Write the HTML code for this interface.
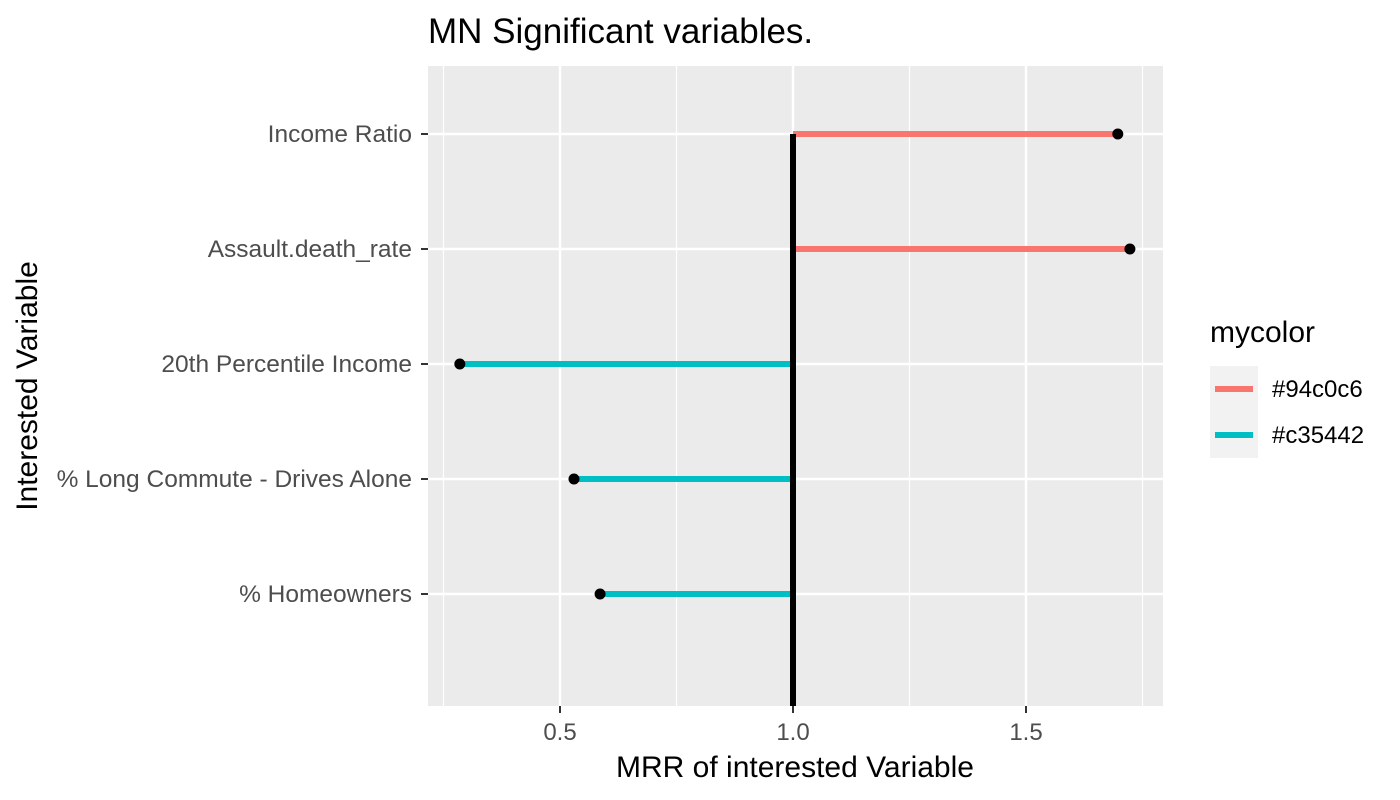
<!DOCTYPE html>
<html><head><meta charset="utf-8"><style>body{margin:0;background:#fff}svg{display:block;font-family:"Liberation Sans",sans-serif}</style></head>
<body>
<svg id="chart" width="1400" height="800">
<text x="428" y="43" font-size="35" fill="#000">MN Significant variables.</text>
<rect x="428" y="66" width="735" height="640" fill="#ebebeb"/>
<g id="grid"></g>
<g id="marks"></g>
<g id="axes"></g>
<text x="795" y="777" font-size="30" text-anchor="middle" fill="#000">MRR of interested Variable</text>
<text transform="translate(37,386) rotate(-90)" font-size="30" text-anchor="middle" fill="#000">Interested Variable</text>
<g>
<text x="1210" y="342" font-size="30" fill="#000">mycolor</text>
<rect x="1210" y="366" width="48" height="46" fill="#f2f2f2"/>
<line x1="1215" y1="389" x2="1253" y2="389" stroke="#F8766D" stroke-width="6"/>
<text x="1272" y="397" font-size="24" fill="#000">#94c0c6</text>
<rect x="1210" y="412" width="48" height="46" fill="#f2f2f2"/>
<line x1="1215" y1="435" x2="1253" y2="435" stroke="#00BFC4" stroke-width="6"/>
<text x="1272" y="443" font-size="24" fill="#000">#c35442</text>
</g>
</svg>
<script>
const categories = ["Income Ratio","Assault.death_rate","20th Percentile Income","% Long Commute - Drives Alone","% Homeowners"];
const values = [1.697, 1.723, 0.285, 0.530, 0.586];
const xTicks = [0.5, 1.0, 1.5];
const xTickLabels = ["0.5","1.0","1.5"];
const xMinor = [0.25, 0.75, 1.25, 1.75];
const NS="http://www.w3.org/2000/svg";
const x = v => 793 + (v-1)*466;
const y = i => 134 + i*115;
function mk(tag, attrs, parent){const e=document.createElementNS(NS,tag);for(const k in attrs)e.setAttribute(k,attrs[k]);document.getElementById(parent).appendChild(e);return e;}
xMinor.forEach(v=>{const l=mk('line',{x1:x(v),x2:x(v),y1:66,y2:706,stroke:'#fff','stroke-width':1.2},'grid');

});
xTicks.forEach((v,i)=>{const l=mk('line',{x1:x(v),x2:x(v),y1:66,y2:706,stroke:'#fff','stroke-width':2.4},'grid');


const t=mk('line',{x1:x(v),x2:x(v),y1:706,y2:713,stroke:'#333','stroke-width':2},'axes');


const tx=mk('text',{x:x(v),y:740,'font-size':24,fill:'#4d4d4d','text-anchor':'middle'},'axes');tx.textContent=xTickLabels[i];

});
categories.forEach((c,i)=>{const l=mk('line',{x1:428,x2:1163,y1:y(i),y2:y(i),stroke:'#fff','stroke-width':2.4},'grid');


const t=mk('line',{x1:421,x2:428,y1:y(i),y2:y(i),stroke:'#333','stroke-width':2},'axes');


const tx=mk('text',{x:412,y:y(i)+8,'font-size':24.5,fill:'#4d4d4d','text-anchor':'end'},'axes');tx.textContent=c;

});
values.forEach((v,i)=>{const col=v>=1?'#F8766D':'#00BFC4';
const s=mk('line',{x1:x(1),x2:x(v),y1:y(i),y2:y(i),stroke:col,'stroke-width':6},'marks');

});
const vl=mk('line',{x1:x(1),x2:x(1),y1:y(0),y2:706,stroke:'#000','stroke-width':6},'marks');


values.forEach((v,i)=>{const d=mk('circle',{cx:x(v),cy:y(i),r:5.5,fill:'#000'},'marks');

});
</script>
</body></html>
